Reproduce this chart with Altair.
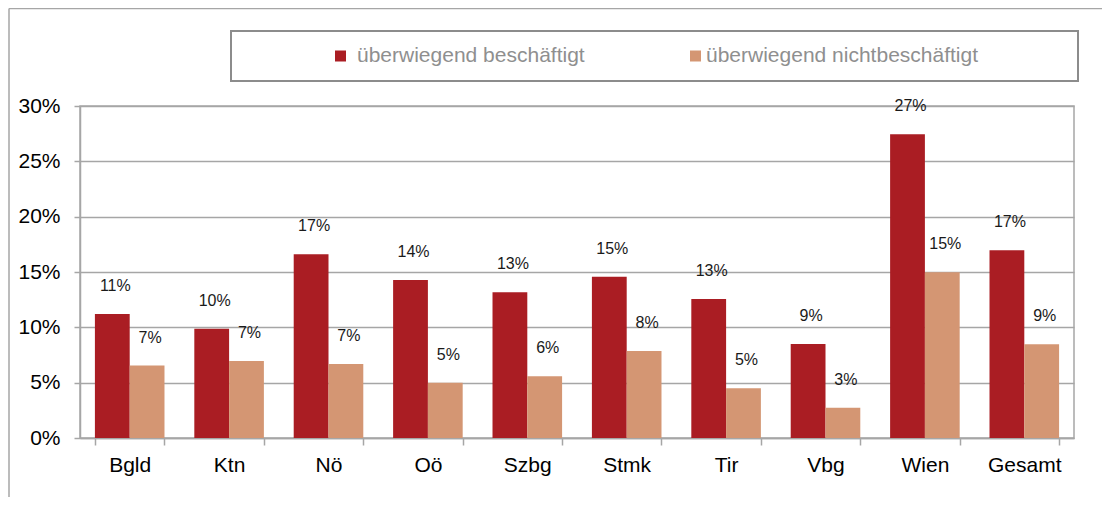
import altair as alt
import pandas as pd

CATEGORIES = ["Bgld", "Ktn", "Nö", "Oö", "Szbg", "Stmk", "Tir", "Vbg", "Wien", "Gesamt"]
SERIES = ["überwiegend beschäftigt", "überwiegend nichtbeschäftigt"]
COLORS = ["#AA1D23", "#D49673"]
BESCHAEFTIGT = [0.112, 0.0988, 0.166, 0.1428, 0.1316, 0.1458, 0.1256, 0.085, 0.2744, 0.1696]
NICHTBESCHAEFTIGT = [0.0655, 0.0696, 0.0669, 0.050, 0.0557, 0.0786, 0.0450, 0.0274, 0.1497, 0.0847]
LABELS_B = ["11%", "10%", "17%", "14%", "13%", "15%", "13%", "9%", "27%", "17%"]
LABELS_N = ["7%", "7%", "7%", "5%", "6%", "8%", "5%", "3%", "15%", "9%"]
Y_TICKS = [0, 0.05, 0.10, 0.15, 0.20, 0.25, 0.30]

FONT = "Liberation Sans"
GRAY = "#a6a6a6"

rows = []
for i, c in enumerate(CATEGORIES):
    rows.append({"Kategorie": c, "Serie": SERIES[0], "Wert": BESCHAEFTIGT[i], "Label": LABELS_B[i]})
    rows.append({"Kategorie": c, "Serie": SERIES[1], "Wert": NICHTBESCHAEFTIGT[i], "Label": LABELS_N[i]})
df = pd.DataFrame(rows)
legend_df = pd.DataFrame({"Serie": SERIES})
one = pd.DataFrame({"k": [0]})

color = alt.Color("Serie:N", scale=alt.Scale(domain=SERIES, range=COLORS), legend=None)
xscale = alt.Scale(domain=CATEGORIES, paddingInner=0.3, paddingOuter=0.15)
yscale = alt.Scale(domain=[0, 0.3], nice=False)

frame_top = alt.Chart(one).mark_rule(color=GRAY, strokeWidth=1.5).encode(
    x=alt.value(-71), x2=alt.value(1200), y=alt.value(-97.5)
)
frame_left = alt.Chart(one).mark_rule(color=GRAY, strokeWidth=1.5).encode(
    x=alt.value(-71), y=alt.value(-97.5), y2=alt.value(600)
)
legend_box = alt.Chart(one).mark_rect(fill="white", stroke="#8c8c8c", strokeWidth=2).encode(
    x=alt.value(151), x2=alt.value(998), y=alt.value(-75), y2=alt.value(-25)
)
legend_sym = alt.Chart(legend_df).mark_square(size=121, opacity=1).encode(
    x=alt.X("Serie:N", sort=SERIES,
            scale=alt.Scale(type="point", domain=SERIES, range=[260.5, 615.5], padding=0), axis=None),
    y=alt.value(-50),
    color=color,
)
legend_txt = alt.Chart(legend_df).mark_text(
    align="left", baseline="middle", fontSize=21, font=FONT, color="#8f8f8f"
).encode(
    x=alt.X("Serie:N", sort=SERIES,
            scale=alt.Scale(type="point", domain=SERIES, range=[277, 626], padding=0), axis=None),
    y=alt.value(-50),
    text="Serie:N",
)

bars = alt.Chart(df).mark_bar().encode(
    x=alt.X("Kategorie:N", sort=CATEGORIES, scale=xscale, title=None,
            axis=alt.Axis(labelAngle=0, tickBand="extent", tickSize=7, tickColor=GRAY, tickWidth=1.5,
                          domainColor=GRAY, domainWidth=1.5, labelFontSize=21, labelFont=FONT,
                          labelColor="#000000", labelPadding=9, grid=False)),
    xOffset=alt.XOffset("Serie:N", sort=SERIES),
    y=alt.Y("Wert:Q", scale=yscale, title=None,
            axis=alt.Axis(values=Y_TICKS, format=".0%", tickSize=6, tickColor=GRAY, tickWidth=1.5,
                          domainColor=GRAY, domainWidth=1.5, gridColor=GRAY, gridWidth=1.5,
                          labelFontSize=21, labelFont=FONT, labelColor="#000000", labelPadding=14)),
    color=color,
)
labels = alt.Chart(df).mark_text(dx=3, dy=-28, baseline="middle", fontSize=16, font=FONT, color="#1a1a1a").encode(
    x=alt.X("Kategorie:N", sort=CATEGORIES, scale=xscale, axis=None),
    xOffset=alt.XOffset("Serie:N", sort=SERIES),
    y=alt.Y("Wert:Q", scale=yscale),
    text="Label:N",
)

chart = alt.layer(frame_top, frame_left, legend_box, legend_sym, legend_txt, bars, labels).resolve_scale(
    x="independent"
).properties(
    width=994, height=332,
    autosize=alt.AutoSizeParams(type="none"),
    padding={"left": 72, "top": 98, "right": 28, "bottom": 59},
).configure_view(stroke=GRAY, strokeWidth=1.5)

chart.save("out.html", embed_options={"renderer": "svg", "actions": False})
